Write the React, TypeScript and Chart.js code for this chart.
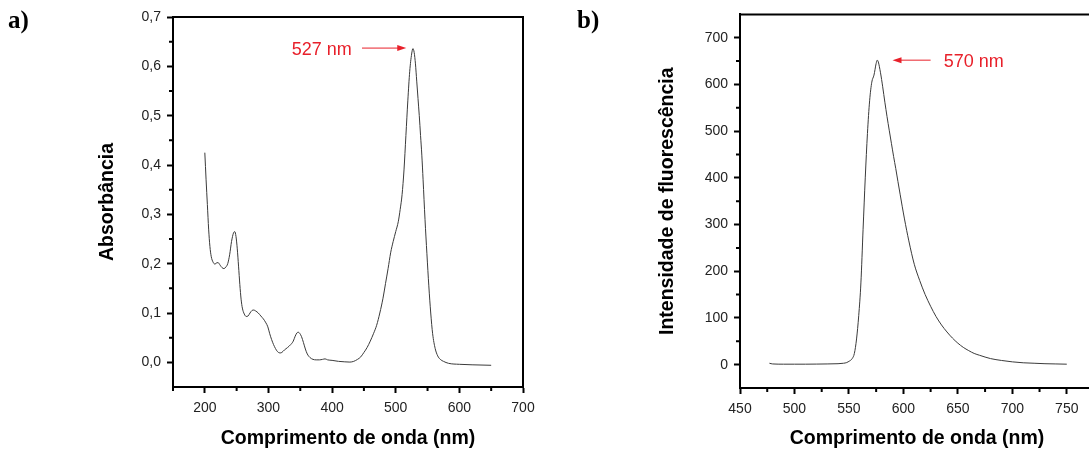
import React, { useEffect, useRef } from 'react';
import { Chart, registerables } from 'chart.js';

Chart.register(...registerables);

// ---------- Panel a) absorbance ----------
const absWavelength = [200, 202, 204, 206, 208, 210, 213, 216, 219, 221, 224, 227, 230, 233, 236, 239, 242, 245, 247, 249, 251, 253, 255, 257, 259, 262, 265, 268, 271, 274, 277, 280, 284, 288, 292, 296, 299, 302, 305, 308, 311, 314, 318, 321, 325, 330, 335, 339, 342, 345, 347, 349, 352, 355, 358, 361, 365, 370, 375, 380, 385, 389, 393, 400, 410, 420, 428, 434, 440, 445, 450, 455, 460, 465, 470, 475, 480, 484, 488, 492, 496, 500, 504, 507, 510, 513, 516, 519, 522, 525, 527, 529, 531, 533, 535, 537, 539, 541, 543, 546, 549, 552, 555, 558, 562, 566, 570, 575, 583, 600, 620, 650];
const absValues = [0.425, 0.37, 0.32, 0.27, 0.235, 0.215, 0.203, 0.199, 0.202, 0.202, 0.197, 0.192, 0.19, 0.193, 0.2, 0.218, 0.245, 0.262, 0.265, 0.255, 0.23, 0.195, 0.158, 0.128, 0.11, 0.098, 0.093, 0.094, 0.1, 0.105, 0.106, 0.104, 0.1, 0.094, 0.088, 0.08, 0.072, 0.058, 0.046, 0.036, 0.028, 0.022, 0.019, 0.02, 0.025, 0.03, 0.036, 0.043, 0.053, 0.06, 0.061, 0.059, 0.052, 0.04, 0.027, 0.017, 0.01, 0.006, 0.005, 0.005, 0.006, 0.007, 0.005, 0.004, 0.002, 0.001, 0.0005, 0.002, 0.006, 0.011, 0.02, 0.03, 0.043, 0.058, 0.075, 0.1, 0.13, 0.16, 0.19, 0.222, 0.245, 0.265, 0.285, 0.31, 0.34, 0.39, 0.46, 0.53, 0.59, 0.625, 0.636, 0.628, 0.605, 0.57, 0.535, 0.5, 0.46, 0.42, 0.37, 0.29, 0.22, 0.155, 0.1, 0.058, 0.028, 0.013, 0.006, 0.002, -0.002, -0.004, -0.005, -0.006];
const absXTicks = [200, 300, 400, 500, 600, 700];
const absXMinor = [150, 250, 350, 450, 550, 650];
const absYTicks = [0, 0.1, 0.2, 0.3, 0.4, 0.5, 0.6, 0.7];
const absYMinor = [0.05, 0.15, 0.25, 0.35, 0.45, 0.55, 0.65];

// ---------- Panel b) fluorescence ----------
const fluoWavelength = [477, 480, 490, 500, 510, 520, 530, 540, 545, 548, 550, 553, 555, 557, 559, 561, 563, 565, 567, 569, 571, 573, 575, 576, 577, 579, 581, 583, 585, 587, 589, 591, 593, 595, 597, 599, 601, 605, 610, 615, 620, 625, 630, 635, 640, 645, 650, 655, 660, 665, 670, 680, 690, 700, 710, 720, 730, 740, 750];
const fluoValues = [3, 1.5, 1, 1, 1, 1.2, 1.5, 2, 3, 4.5, 7, 13, 24, 55, 105, 175, 290, 400, 495, 565, 605, 620, 645, 652, 648, 625, 595, 562, 531, 502, 474, 446, 420, 392, 365, 338, 312, 265, 215, 180, 150, 125, 103, 85, 70, 57, 46, 37, 30, 24, 20, 13, 9, 6, 4, 3, 2, 1.5, 1];
const fluoXTicks = [450, 500, 550, 600, 650, 700, 750];
const fluoXMinor = [475, 525, 575, 625, 675, 725, 775];
const fluoYTicks = [0, 100, 200, 300, 400, 500, 600, 700];
const fluoYMinor = [50, 150, 250, 350, 450, 550, 650];

const SANS = "'Liberation Sans', Arial, Helvetica, sans-serif";
const RED = '#e8202a';

const framePlugin = {
  id: 'frame',
  afterDraw(chart: any, _args: any, o: any) {
    const { ctx, chartArea } = chart;
    const { left, top, right, bottom } = chartArea;
    const xs = chart.scales.x;
    const ys = chart.scales.y;
    ctx.save();
    ctx.strokeStyle = '#000';
    ctx.lineWidth = 2;
    ctx.beginPath();
    ctx.moveTo(left - 1, top);
    ctx.lineTo(right, top);
    ctx.lineTo(right, bottom + 1);
    ctx.stroke();
    ctx.beginPath();
    for (const v of o.xMinor) {
      const px = xs.getPixelForValue(v);
      ctx.moveTo(px, bottom);
      ctx.lineTo(px, bottom + 4);
    }
    for (const v of o.yMinor) {
      const py = ys.getPixelForValue(v);
      ctx.moveTo(left, py);
      ctx.lineTo(left - 4, py);
    }
    ctx.stroke();
    // annotation
    const an = o.annotation;
    if (an) {
      const y = ys.getPixelForValue(an.y);
      const x1 = xs.getPixelForValue(an.from);
      const x2 = xs.getPixelForValue(an.to);
      const dir = x2 > x1 ? 1 : -1;
      ctx.strokeStyle = RED;
      ctx.fillStyle = RED;
      ctx.lineWidth = 1;
      ctx.beginPath();
      ctx.moveTo(x1, y);
      ctx.lineTo(x2 - dir * 8, y);
      ctx.stroke();
      ctx.beginPath();
      ctx.moveTo(x2, y);
      ctx.lineTo(x2 - dir * 9, y - 3);
      ctx.lineTo(x2 - dir * 9, y + 3);
      ctx.closePath();
      ctx.fill();
      ctx.font = `18px ${SANS}`;
      ctx.textBaseline = 'alphabetic';
      ctx.textAlign = an.align;
      ctx.fillText(an.text, xs.getPixelForValue(an.textX), y + 6.5);
    }
    ctx.restore();
  },
};

function makeChart(canvas: HTMLCanvasElement, cfg: any) {
  const tickFont = { family: SANS, size: 14 };
  const titleFont = { family: SANS, size: 19.5, weight: 'bold' as const };
  return new Chart(canvas, {
    type: 'line',
    data: {
      datasets: [
        {
          data: cfg.xs.map((x: number, i: number) => ({ x, y: cfg.ys[i] })),
          borderColor: '#3a3a3a',
          borderWidth: 1,
          pointRadius: 0,
          cubicInterpolationMode: 'monotone',
          fill: false,
        },
      ],
    },
    options: {
      responsive: false,
      animation: false,
      events: [],
      layout: { padding: cfg.padding },
      plugins: {
        legend: { display: false },
        tooltip: { enabled: false },
        frame: { xMinor: cfg.xMinor, yMinor: cfg.yMinor, annotation: cfg.annotation },
      } as any,
      scales: {
        x: {
          type: 'linear',
          min: cfg.xMin,
          max: cfg.xMax,
          afterBuildTicks: (s: any) => {
            s.ticks = cfg.xTicks.map((v: number) => ({ value: v }));
          },
          afterFit: (s: any) => {
            s.height = cfg.xAxisHeight;
          },
          grid: { drawOnChartArea: false, drawTicks: true, tickLength: 6, tickWidth: 2, tickColor: '#000' },
          border: { display: true, color: '#000', width: 2 },
          ticks: { font: tickFont, color: '#222', padding: 7, maxRotation: 0, autoSkip: false, callback: (v: any) => String(v) },
          title: { display: true, text: 'Comprimento de onda (nm)', font: titleFont, color: '#000', padding: { top: 0, bottom: 4 } },
        },
        y: {
          type: 'linear',
          min: cfg.yMin,
          max: cfg.yMax,
          afterBuildTicks: (s: any) => {
            s.ticks = cfg.yTicks.map((v: number) => ({ value: v }));
          },
          afterFit: (s: any) => {
            s.width = cfg.yAxisWidth;
          },
          grid: { drawOnChartArea: false, drawTicks: true, tickLength: 6, tickWidth: 2, tickColor: '#000' },
          border: { display: true, color: '#000', width: 2 },
          ticks: { font: tickFont, color: '#222', padding: 6, autoSkip: false, callback: cfg.yLabel },
          title: { display: true, text: cfg.yTitle, font: titleFont, color: '#000', padding: { top: cfg.yTitlePad, bottom: 0 } },
        },
      },
    },
    plugins: [framePlugin],
  } as any);
}

export default function App() {
  const refA = useRef<HTMLCanvasElement>(null);
  const refB = useRef<HTMLCanvasElement>(null);

  useEffect(() => {
    const a = makeChart(refA.current!, {
      xs: absWavelength,
      ys: absValues,
      xMin: 150,
      xMax: 700,
      yMin: -0.05,
      yMax: 0.7,
      xTicks: absXTicks,
      yTicks: absYTicks,
      xMinor: absXMinor,
      yMinor: absYMinor,
      padding: { left: 0, top: 17, right: 22, bottom: 0 },
      xAxisHeight: 67,
      yAxisWidth: 173,
      yTitle: 'Absorbância',
      yTitlePad: 96,
      yLabel: (v: any) => Number(v).toFixed(1).replace('.', ','),
      annotation: { text: '527 nm', align: 'right', textX: 431, from: 447, to: 516.5, y: 0.637 },
    });
    const b = makeChart(refB.current!, {
      xs: fluoWavelength,
      ys: fluoValues,
      xMin: 450,
      xMax: 775,
      yMin: -50,
      yMax: 750,
      xTicks: fluoXTicks,
      yTicks: fluoYTicks,
      xMinor: fluoXMinor,
      yMinor: fluoYMinor,
      padding: { left: 0, top: 14, right: 31, bottom: 0 },
      xAxisHeight: 66,
      yAxisWidth: 195,
      yTitle: 'Intensidade de fluorescência',
      yTitlePad: 111,
      yLabel: (v: any) => String(v),
      annotation: { text: '570 nm', align: 'left', textX: 637, from: 625, to: 590, y: 652 },
    });
    return () => {
      a.destroy();
      b.destroy();
    };
  }, []);

  const panelLabel: React.CSSProperties = {
    position: 'absolute',
    top: 7,
    fontFamily: "'Liberation Serif', 'Times New Roman', serif",
    fontWeight: 'bold',
    fontSize: 25,
    lineHeight: 1,
    color: '#000',
  };

  return (
    <div style={{ position: 'fixed', left: 0, top: 0, width: 1089, height: 454, overflow: 'hidden', background: '#fff' }}>
      <canvas ref={refA} width={545} height={454} style={{ position: 'absolute', left: 0, top: 0, width: 545, height: 454 }} />
      <canvas ref={refB} width={580} height={454} style={{ position: 'absolute', left: 545, top: 0, width: 580, height: 454 }} />
      <div style={{ ...panelLabel, left: 8 }}>a)</div>
      <div style={{ ...panelLabel, left: 577 }}>b)</div>
    </div>
  );
}
